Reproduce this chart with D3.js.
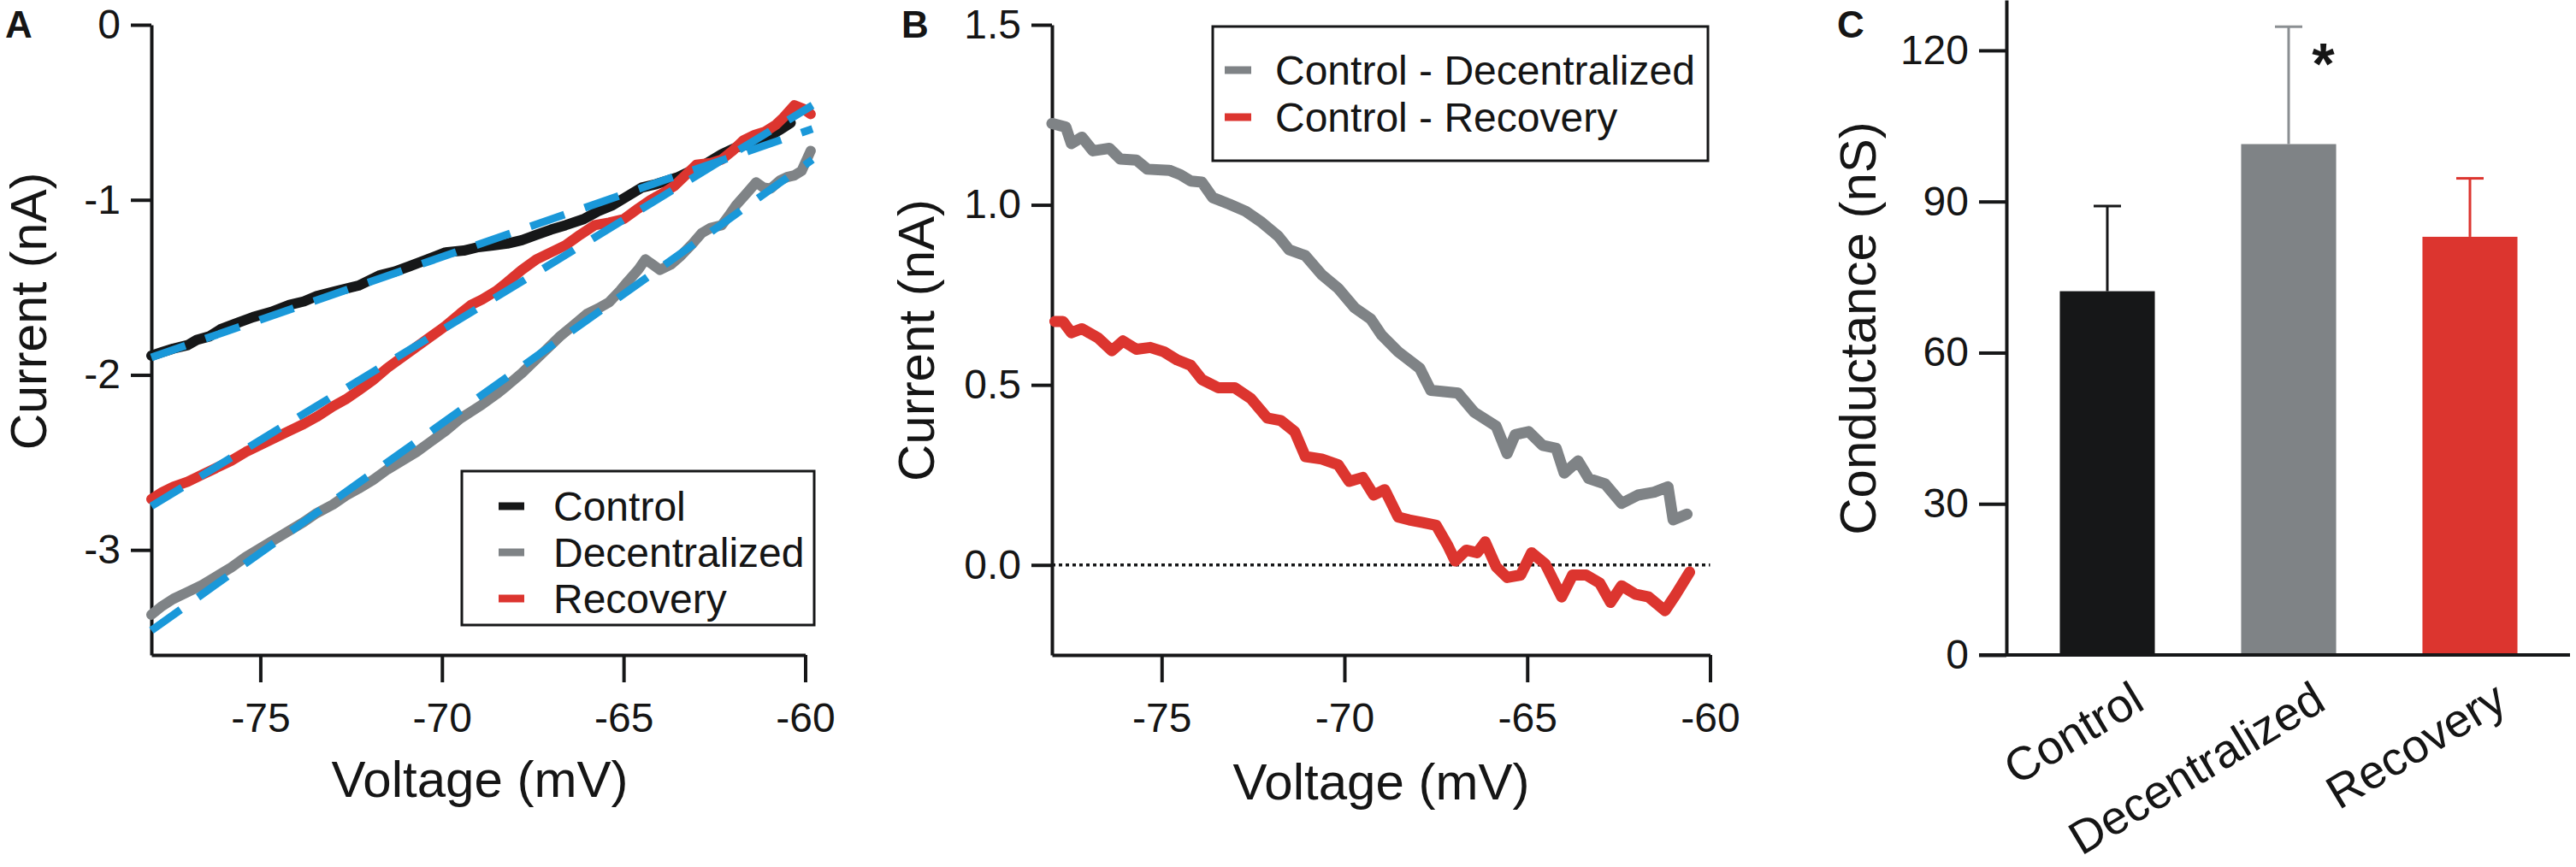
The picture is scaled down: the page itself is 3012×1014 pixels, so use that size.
<!DOCTYPE html>
<html>
<head>
<meta charset="utf-8">
<title>IV curves and conductance</title>
<style>
  body { margin: 0; background: #fff; }
  svg text { font-family: "Liberation Sans", Arial, sans-serif; fill: #151515; }
</style>
</head>
<body>
<svg id="fig"></svg>
<script src="https://cdn.jsdelivr.net/npm/d3@7/dist/d3.min.js"></script>
<script>
// panel A: [voltage mV, current nA]
const controlTrace = [[-78.0,-1.89],[-77.7,-1.87],[-77.4,-1.85],[-77.0,-1.83],[-76.75,-1.80],[-76.4,-1.78],[-76.1,-1.74],[-75.6,-1.70],[-75.2,-1.67],
  [-74.7,-1.64],[-74.2,-1.60],[-73.8,-1.58],[-73.45,-1.55],[-72.9,-1.52],[-72.3,-1.49],[-71.7,-1.43],[-71.3,-1.41],[-70.9,-1.38],[-70.4,-1.34],
  [-69.9,-1.30],[-69.4,-1.29],[-69.0,-1.27],[-68.6,-1.26],[-68.2,-1.25],[-67.8,-1.23],[-67.4,-1.20],[-67.0,-1.17],[-66.6,-1.145],[-66.1,-1.11],
  [-65.7,-1.065],[-65.3,-1.03],[-64.9,-0.98],[-64.5,-0.93],[-64.1,-0.91],[-63.5,-0.87],[-63.1,-0.83],[-62.7,-0.79],[-62.3,-0.74],[-61.9,-0.70],
  [-61.5,-0.68],[-61.1,-0.65],[-60.7,-0.60],[-60.4,-0.56]]
const decentralizedTrace = [[-78.0,-3.37],[-77.7,-3.32],[-77.4,-3.28],[-77.0,-3.24],[-76.6,-3.20],[-76.2,-3.15],[-75.8,-3.10],[-75.4,-3.04],
  [-75.0,-2.99],[-74.6,-2.94],[-74.2,-2.89],[-73.8,-2.84],[-73.45,-2.79],[-73.0,-2.74],[-72.65,-2.69],[-72.3,-2.65],[-71.9,-2.60],[-71.5,-2.54],
  [-71.1,-2.49],[-70.7,-2.44],[-70.3,-2.38],[-69.9,-2.32],[-69.5,-2.25],[-69.2,-2.21],[-68.9,-2.17],[-68.5,-2.11],[-68.2,-2.06],[-67.8,-1.99],
  [-67.4,-1.91],[-67.1,-1.85],[-66.75,-1.78],[-66.4,-1.72],[-66.0,-1.65],[-65.7,-1.62],[-65.4,-1.585],[-65.1,-1.52],[-64.9,-1.47],[-64.6,-1.40],
  [-64.4,-1.34],[-64.2,-1.37],[-64.0,-1.40],[-63.7,-1.37],[-63.45,-1.325],[-63.1,-1.25],[-62.85,-1.19],[-62.6,-1.16],[-62.3,-1.145],[-62.1,-1.09],
  [-61.9,-1.03],[-61.6,-0.96],[-61.35,-0.90],[-61.15,-0.93],[-60.95,-0.935],[-60.7,-0.89],[-60.5,-0.87],[-60.3,-0.86],[-60.1,-0.835],[-59.85,-0.72]]
const recoveryTrace = [[-78.0,-2.71],[-77.7,-2.67],[-77.4,-2.64],[-77.0,-2.61],[-76.6,-2.57],[-76.2,-2.53],[-75.8,-2.49],[-75.4,-2.44],[-75.0,-2.40],
  [-74.6,-2.36],[-74.2,-2.32],[-73.8,-2.28],[-73.45,-2.24],[-73.0,-2.18],[-72.65,-2.14],[-72.3,-2.09],[-71.9,-2.03],[-71.5,-1.96],[-71.1,-1.90],
  [-70.7,-1.84],[-70.3,-1.78],[-69.9,-1.72],[-69.5,-1.65],[-69.2,-1.60],[-68.9,-1.57],[-68.5,-1.52],[-68.2,-1.47],[-67.8,-1.40],[-67.4,-1.34],
  [-67.0,-1.30],[-66.6,-1.26],[-66.2,-1.20],[-65.8,-1.145],[-65.4,-1.13],[-65.0,-1.11],[-64.6,-1.05],[-64.25,-1.00],[-63.9,-0.96],[-63.6,-0.92],
  [-63.3,-0.86],[-63.0,-0.80],[-62.6,-0.79],[-62.3,-0.77],[-62.0,-0.72],[-61.7,-0.66],[-61.4,-0.63],[-61.1,-0.61],[-60.8,-0.57],[-60.6,-0.53],
  [-60.3,-0.46],[-60.05,-0.48],[-59.85,-0.51]]
const controlFit = [[-78,-1.90],[-59.8,-0.595]]
const decentralizedFit = [[-78,-3.46],[-59.8,-0.77]]
const recoveryFit = [[-78,-2.75],[-59.8,-0.46]]
const ivLegend = ["Control", "Decentralized", "Recovery"]

// panel B: difference currents
const diffDecentralized = [[-78.0,1.226],[-77.62,1.216],[-77.47,1.17],[-77.18,1.188],[-76.88,1.15],[-76.43,1.157],[-76.13,1.127],[-75.69,1.124],
  [-75.39,1.099],[-74.79,1.096],[-74.49,1.084],[-74.2,1.066],[-73.9,1.063],[-73.6,1.02],[-73.15,1.002],[-72.7,0.982],[-72.26,0.951],[-71.81,0.913],
  [-71.51,0.875],[-71.07,0.859],[-70.62,0.806],[-70.17,0.768],[-69.72,0.714],[-69.28,0.683],[-68.98,0.638],[-68.53,0.592],[-67.94,0.546],
  [-67.64,0.485],[-67.34,0.482],[-66.89,0.477],[-66.45,0.424],[-65.85,0.385],[-65.55,0.309],[-65.33,0.362],[-64.96,0.37],[-64.58,0.332],
  [-64.21,0.324],[-63.99,0.255],[-63.61,0.289],[-63.32,0.24],[-62.87,0.225],[-62.42,0.171],[-61.97,0.194],[-61.53,0.202],[-61.15,0.217],
  [-61.01,0.125],[-60.63,0.141]]
const diffRecovery = [[-77.92,0.676],[-77.7,0.676],[-77.47,0.645],[-77.18,0.656],[-76.73,0.63],[-76.36,0.595],[-76.06,0.622],[-75.69,0.599],
  [-75.31,0.604],[-74.94,0.592],[-74.57,0.569],[-74.2,0.554],[-73.9,0.515],[-73.45,0.492],[-73.0,0.492],[-72.56,0.462],[-72.11,0.408],
  [-71.74,0.401],[-71.36,0.37],[-71.07,0.301],[-70.62,0.294],[-70.17,0.278],[-69.87,0.232],[-69.5,0.243],[-69.2,0.194],[-68.9,0.209],
  [-68.53,0.133],[-68.23,0.125],[-67.86,0.118],[-67.49,0.11],[-67.19,0.057],[-66.97,0.011],[-66.67,0.041],[-66.37,0.034],[-66.15,0.064],
  [-65.85,-0.005],[-65.55,-0.035],[-65.18,-0.028],[-64.88,0.034],[-64.51,0.003],[-64.06,-0.089],[-63.76,-0.028],[-63.39,-0.028],[-63.02,-0.05],
  [-62.72,-0.104],[-62.42,-0.058],[-62.05,-0.081],[-61.68,-0.089],[-61.23,-0.127],[-60.93,-0.081],[-60.56,-0.02]]
const diffLegend = ["Control - Decentralized", "Control - Recovery"]

// panel C
const groups = ["Control", "Decentralized", "Recovery"]
const conductance = [72.2, 101.4, 83.0]
const conductanceSem = [16.9, 23.3, 11.6]

const voltageTicks = [-75, -70, -65, -60]
const currentTicksA = [0, -1, -2, -3]
const currentTicksB = [0, 0.5, 1.0, 1.5]
const conductanceTicks = [0, 30, 60, 90, 120]

const BLACK = "#161718", GRAY = "#7f8386", RED = "#dc352f", BLUE = "#1a98d9"
const font = '"Liberation Sans", Arial, sans-serif'

const svg = d3.select("#fig").attr("width", 3012).attr("height", 1014)

function styleAxis(g) {
    g.attr("font-size", 48).attr("font-family", font)
    g.select(".domain").attr("stroke", BLACK).attr("stroke-width", 4)
    g.selectAll(".tick line").attr("stroke", BLACK).attr("stroke-width", 4)
    g.selectAll(".tick text").attr("fill", "#151515")
}

function panelLabel(x, txt) {
    svg.append("text").attr("x", x).attr("y", 44)
        .attr("font-size", 44).attr("font-weight", "bold").text(txt)
}

function axisTitle(x, y, txt, rotate, size) {
    svg.append("text")
        .attr("transform", `translate(${x},${y})` + (rotate ? " rotate(-90)" : ""))
        .attr("text-anchor", "middle").attr("font-size", size || 60).text(txt)
}

const line = (xs, ys) => d3.line().x(d => xs(d[0])).y(d => ys(d[1])).curve(d3.curveLinear)

// ---------- panel A ----------
var xA = d3.scaleLinear().domain([-78, -60]).range([177, 941.5])
var yA = d3.scaleLinear().domain([-3.6, 0]).range([766, 29])

svg.append("g").attr("transform", "translate(0,766)")
    .call(d3.axisBottom(xA).tickValues(voltageTicks).tickSize(32).tickSizeOuter(0).tickPadding(24).tickFormat(d => String(d)))
    .call(styleAxis)
svg.append("g").attr("transform", "translate(177,0)")
    .call(d3.axisLeft(yA).tickValues(currentTicksA).tickSize(24).tickSizeOuter(0).tickPadding(12).tickFormat(d => String(d)))
    .call(styleAxis)

const traces = [[controlTrace, BLACK], [decentralizedTrace, GRAY], [recoveryTrace, RED]]
svg.append("g").selectAll("path")
    .data(traces).enter().append("path")
    .attr("d", d => line(xA, yA)(d[0]))
    .attr("fill", "none").attr("stroke", d => d[1]).attr("stroke-width", 12)
    .attr("stroke-linejoin", "round").attr("stroke-linecap", "round")

svg.append("g").selectAll("path")
    .data([controlFit, decentralizedFit, recoveryFit]).enter().append("path")
    .attr("d", d => line(xA, yA)(d))
    .attr("fill", "none").attr("stroke", BLUE).attr("stroke-width", 9)
    .attr("stroke-dasharray", "42,25")

var legA = svg.append("g")
legA.append("rect").attr("x", 540).attr("y", 551).attr("width", 412).attr("height", 180)
    .attr("fill", "#fff").attr("stroke", BLACK).attr("stroke-width", 3)
ivLegend.forEach((name, i) => {
    const y = 592 + i * 54
    legA.append("line").attr("x1", 583).attr("x2", 613).attr("y1", y).attr("y2", y)
        .attr("stroke", traces[i][1]).attr("stroke-width", 9)
    legA.append("text").attr("x", 647).attr("y", y).attr("dy", "0.36em")
        .attr("font-size", 48).text(name)
})

panelLabel(6, "A")
axisTitle(54, 364, "Current (nA)", true, 59)
axisTitle(561, 932, "Voltage (mV)", false)

// ---------- panel B ----------
var xB = d3.scaleLinear().domain([-78, -60]).range([1230, 1999.5])
var yB = d3.scaleLinear().domain([-0.25, 1.5]).range([766, 29])

svg.append("g").attr("transform", "translate(0,766)")
    .call(d3.axisBottom(xB).tickValues(voltageTicks).tickSize(32).tickSizeOuter(0).tickPadding(24).tickFormat(d => String(d)))
    .call(styleAxis)
svg.append("g").attr("transform", "translate(1230,0)")
    .call(d3.axisLeft(yB).tickValues(currentTicksB).tickSize(24).tickSizeOuter(0).tickPadding(12).tickFormat(d3.format(".1f")))
    .call(styleAxis)

svg.append("line")
    .attr("x1", xB(-78)).attr("x2", xB(-60)).attr("y1", yB(0)).attr("y2", yB(0))
    .attr("stroke", BLACK).attr("stroke-width", 3.5).attr("stroke-dasharray", "4,4")

const diffs = [[diffDecentralized, GRAY], [diffRecovery, RED]]
svg.append("g").selectAll("path")
    .data(diffs).enter().append("path")
    .attr("d", d => line(xB, yB)(d[0]))
    .attr("fill", "none").attr("stroke", d => d[1]).attr("stroke-width", 13)
    .attr("stroke-linejoin", "round").attr("stroke-linecap", "round")

var legB = svg.append("g")
legB.append("rect").attr("x", 1418).attr("y", 31).attr("width", 579).attr("height", 157)
    .attr("fill", "#fff").attr("stroke", BLACK).attr("stroke-width", 3)
diffLegend.forEach((name, i) => {
    const y = 82 + i * 55
    legB.append("line").attr("x1", 1432).attr("x2", 1463).attr("y1", y).attr("y2", y)
        .attr("stroke", diffs[i][1]).attr("stroke-width", 9)
    legB.append("text").attr("x", 1491).attr("y", y).attr("dy", "0.36em")
        .attr("font-size", 48).text(name)
})

panelLabel(1054, "B")
axisTitle(1092, 398, "Current (nA)", true)
axisTitle(1615, 935, "Voltage (mV)", false)

// ---------- panel C ----------
var xC = d3.scaleBand().domain(groups).range([2358, 2994]).paddingInner(0.476).paddingOuter(0.238)
var yC = d3.scaleLinear().domain([0, 130]).range([766, 0])
const barColors = [BLACK, GRAY, RED]
const errColors = [BLACK, "#8b8f92", RED]

svg.append("g").selectAll("rect")
    .data(groups).enter().append("rect")
    .attr("x", d => xC(d)).attr("width", xC.bandwidth())
    .attr("y", (d, i) => yC(conductance[i]))
    .attr("height", (d, i) => yC(0) - yC(conductance[i]))
    .attr("fill", (d, i) => barColors[i])

var err = svg.append("g")
groups.forEach((g, i) => {
    const cx = xC(g) + xC.bandwidth() / 2
    err.append("line").attr("x1", cx).attr("x2", cx)
        .attr("y1", yC(conductance[i])).attr("y2", yC(conductance[i] + conductanceSem[i]))
        .attr("stroke", errColors[i]).attr("stroke-width", 3)
    err.append("line").attr("x1", cx - 16).attr("x2", cx + 16)
        .attr("y1", yC(conductance[i] + conductanceSem[i])).attr("y2", yC(conductance[i] + conductanceSem[i]))
        .attr("stroke", errColors[i]).attr("stroke-width", 3)
    svg.append("text")
        .attr("transform", `translate(${cx + 46},${yC(0) + 62}) rotate(-31)`)
        .attr("text-anchor", "end").attr("font-size", 55).text(g)
})

svg.append("g").attr("transform", "translate(2346,0)")
    .call(d3.axisLeft(yC).tickValues(conductanceTicks).tickSize(32).tickSizeOuter(0).tickPadding(12))
    .call(styleAxis)
svg.append("line").attr("x1", 2314).attr("x2", 3005).attr("y1", yC(0)).attr("y2", yC(0))
    .attr("stroke", BLACK).attr("stroke-width", 4)

svg.append("text").attr("x", xC("Decentralized") + xC.bandwidth() - 15).attr("y", 98)
    .attr("text-anchor", "middle").attr("font-size", 68).attr("font-weight", "bold").text("*")

panelLabel(2148, "C")
axisTitle(2193, 384, "Conductance (nS)", true)
</script>
</body>
</html>
